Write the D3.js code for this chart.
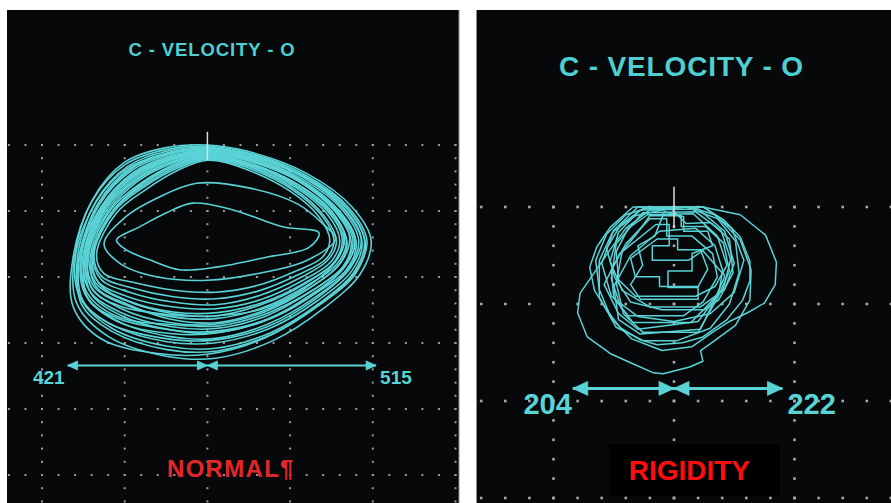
<!DOCTYPE html>
<html>
<head>
<meta charset="utf-8">
<script src="https://cdn.jsdelivr.net/npm/d3@7"></script>
<style>
  html, body { margin: 0; padding: 0; background: #ffffff; }
  svg { display: block; }
</style>
</head>
<body>
<svg id="chart" width="891" height="503"></svg>
<script>
// Phase loops, position (x) vs velocity (y, measured downward from the top grid line).
// NORMAL panel: x units are tenths of a horizontal division, y units tenths of a vertical division.
const normalLoops = [
  [[0,0],[-5,0.4],[-10,2.6],[-13.9,8.3],[-16.1,17],[-15.8,24],[-12,29],[-5,32],[1,32.3],[8,29.6],[14,24.8],[18.5,19.5],[19.8,14.5],[17.5,9.4],[12,4.3],[5,1]],
  [[0,0.35],[-4.8,0.9],[-9.6,3.2],[-13.5,8.6],[-15.7,16.9],[-15.3,23.3],[-11.5,27.8],[-4.8,30.5],[1,30.8],[7.7,28.4],[13.5,24],[17.8,19.1],[19,14.5],[16.9,9.6],[11.7,4.7],[4.9,1.4]],
  [[0,0.7],[-4.5,1.4],[-9.2,3.9],[-13,8.9],[-15.3,16.8],[-14.8,22.6],[-11.1,26.5],[-4.7,29],[1,29.3],[7.4,27.1],[13,23.1],[17.1,18.7],[18.3,14.5],[16.3,9.8],[11.4,5.1],[4.8,1.8]],
  [[0,1],[-4.3,1.9],[-8.9,4.5],[-12.6,9.2],[-14.9,16.8],[-14.3,22],[-10.6,25.3],[-4.5,27.5],[1,27.8],[7.1,25.9],[12.4,22.3],[16.4,18.4],[17.6,14.5],[15.7,10.1],[11.1,5.5],[4.8,2.2]],
  [[0,1.4],[-4.1,2.4],[-8.5,5.1],[-12.2,9.5],[-14.5,16.7],[-13.8,21.3],[-10.2,24.1],[-4.4,26],[1,26.3],[6.8,24.6],[11.9,21.4],[15.7,18],[16.8,14.4],[15.1,10.3],[10.8,5.9],[4.7,2.6]],
  [[0,1.7],[-3.9,2.9],[-8.1,5.8],[-11.7,9.8],[-14.1,16.6],[-13.3,20.6],[-9.8,22.9],[-4.3,24.5],[1,24.8],[6.5,23.4],[11.4,20.6],[15,17.6],[16,14.4],[14.5,10.5],[10.5,6.3],[4.6,3]],
  [[0,2.1],[-3.6,3.5],[-7.7,6.4],[-11.3,10.1],[-13.7,16.5],[-12.8,19.9],[-9.3,21.6],[-4.1,23],[1,23.3],[6.2,22.1],[10.9,19.7],[14.4,17.2],[15.3,14.4],[13.9,10.8],[10.2,6.7],[4.5,3.3]],
  [[0.5,0.8],[-4.4,1.6],[-9,4.2],[-12.8,9.3],[-15.1,17.3],[-14.5,23.1],[-10.8,26.8],[-4.2,28.6],[1.5,28.4],[7.6,26.3],[12.9,22.6],[16.8,18.9],[18,14.9],[16.1,10.4],[11.5,5.6],[5.2,2.1]],
  [[-0.3,1.2],[-4.2,2.1],[-8.7,4.7],[-12.4,9.1],[-14.7,16.2],[-14,21.6],[-10.4,24.8],[-4.6,26.9],[0.6,27.2],[6.9,25.3],[12.2,21.8],[16.1,17.9],[17.2,14],[15.4,9.8],[10.9,5.4],[4.6,2.3]],
  [[0.2,1.9],[-3.8,3.1],[-7.9,6],[-11.5,10.1],[-13.9,16.9],[-13.1,21],[-9.6,23.6],[-4.1,25.3],[1.2,25.4],[6.6,23.9],[11.6,21],[15.3,17.8],[16.3,14.2],[14.7,10.2],[10.6,6.1],[4.9,2.8]],
  [[0,0.5],[-4.6,1.1],[-9.4,3.6],[-13.2,8.8],[-15.5,17.1],[-15,23.7],[-11.3,27.4],[-4.9,29.8],[0.8,30],[7.5,27.8],[13.3,23.6],[17.5,19],[18.7,14.8],[16.6,9.9],[11.6,4.9],[4.9,1.6]],
  [[0,1.6],[-4,2.7],[-8.3,5.4],[-11.9,9.9],[-14.3,16.4],[-13.5,20.9],[-10,23.5],[-4.4,25.5],[1,25.9],[6.7,24.1],[11.7,21.1],[15.4,17.7],[16.5,14.3],[14.8,10.4],[10.6,6.1],[4.7,2.8]],
  [[0,0.2],[-5,0.7],[-10,3],[-14,8.6],[-16.3,17.5],[-16.2,24.6],[-12.8,29.4],[-6,31.6],[0,31.7],[7,29.2],[13.2,24.5],[17.9,19.2],[19.3,14.6],[17.1,9.5],[11.8,4.5],[5,1.2]],
  [[0,1.3],[-4.2,2.2],[-8.6,4.9],[-12.3,9.4],[-14.6,16.6],[-14.1,22.4],[-10.5,25.8],[-4.5,28],[1,28.2],[7.2,26.4],[12.6,22.6],[16.6,18.5],[17.8,14.6],[15.9,10.1],[11.2,5.4],[4.8,2.1]],
  [[0,2],[-3.7,3.3],[-7.8,6.2],[-11.4,9.9],[-13.8,16.3],[-12.9,20.3],[-9.4,22.3],[-4.2,23.8],[1,24.2],[6.3,22.8],[11.1,20.2],[14.6,17.4],[15.6,14.5],[14.1,10.7],[10.3,6.5],[4.6,3.1]],
  [[0,2.3],[-3.5,3.8],[-7.5,6.8],[-11,10.3],[-13.4,16.5],[-12.5,19.5],[-9,20.8],[-4,22],[1,22.3],[6,21.3],[10.5,19.2],[13.9,17],[14.8,14.4],[13.5,10.9],[10,7],[4.5,3.6]],
  [[0.3,0.5],[-4.7,1.2],[-9.5,3.4],[-13.4,8.5],[-15.9,16.5],[-15.5,22.8],[-11.9,27],[-5.2,29.3],[0.5,29.6],[7.3,27.5],[13.1,23.3],[17.3,18.6],[18.6,14.2],[16.4,9.4],[11.3,4.6],[4.6,1.5]],
  [[0,1.1],[-4.3,2],[-8.8,4.6],[-12.5,9.6],[-14.8,17.2],[-14.4,23.4],[-11,26.2],[-5,27.9],[0.2,28.5],[6.6,26.8],[12.1,23.3],[16.2,18.9],[17.4,14.8],[15.5,10.2],[10.8,5.3],[4.5,2]],
  [[0,1.5],[-4,2.5],[-8.4,5.2],[-12,9.6],[-14.4,16.2],[-13.9,21.9],[-10.6,24.4],[-4.8,25.7],[0.6,25.9],[6.5,24.9],[11.8,21.7],[15.6,17.5],[16.6,14],[15,10],[10.7,5.8],[4.6,2.6]],
  [[0.4,0.9],[-4.4,1.8],[-9,4.4],[-12.7,9.1],[-15.2,16.4],[-14.6,22.3],[-10.9,26],[-4.3,27.2],[1.4,27.4],[7.4,25.4],[12.7,22],[16.7,18.2],[17.9,14.3],[15.9,9.9],[11.2,5.2],[5,2]],
  [[0,1.8],[-3.9,3],[-8,5.9],[-11.7,10.4],[-14.1,17.3],[-13.4,21.6],[-9.9,24],[-4.4,26.4],[1.3,26.9],[7,25],[12,21.9],[15.8,18.3],[16.9,14.9],[15.2,10.6],[10.9,6],[4.7,2.9]],
  [[-0.2,0.6],[-4.7,1.3],[-9.3,3.7],[-13.1,9],[-15.6,17.6],[-15.2,24.2],[-11.6,28.2],[-4.9,31],[1.2,31.2],[7.9,28.6],[13.6,24.2],[17.9,19.5],[19.1,14.9],[17,9.8],[11.7,4.8],[4.8,1.3]],
  [[-1.8,8.8],[3,9.8],[9.1,12.4],[13.5,13.3],[12.3,15.5],[7.1,17],[1.1,18.5],[-3.4,18.9],[-7,17.4],[-9.8,15.9],[-11,14.4],[-8.2,12.4],[-5,10.3]],
  [[-1.3,5.8],[5,6.5],[11,9],[14,12],[15.5,14.2],[12,17.5],[6,19.5],[0,20.5],[-6,20],[-10.5,18],[-12.5,15],[-10,11],[-6,8]]
];

// RIGIDITY panel loops, same convention on its own grid.
const rigidityLoops = [
  [[-3.4,0],[-5.3,2.1],[-6.4,4.1],[-7,6.2],[-6.6,8.6],[-5.6,10.6],[-4.5,12.4],[-2.8,13.7],[-1.4,14.2],[0.7,14],[2.4,13.4],[4.4,11.6],[5.7,9.6],[6.3,7.6],[6.3,5.6],[5.5,3.1],[4.1,1.3],[2.4,0]],
  [[-2,0],[2.4,0],[5.5,0.8],[7.6,2.9],[8.5,5.7],[8.4,8],[7.5,9.9],[6.1,10.9],[4.6,11.8],[3.1,13],[1.5,14.4],[-1,14.8],[-3.5,13.6],[-5.2,11.5],[-6.2,8.5],[-6.5,5.5],[-5.6,2.8],[-4,0.8]],
  [[-5.3,4.4],[-7.8,8.9],[-8,10.9],[-7.2,13.4],[-5.3,15.1],[-3.7,16],[-1.7,17.1],[-0.9,17.2],[1.3,16.5],[2.4,15.9],[2.2,14.8],[3,14.1],[5.1,12.2],[6.3,9.6],[6.4,6.5],[5.5,3.4],[3.4,0.8],[1.3,0],[-2,0.3],[-4,2.2]],
  [[-3,0],[2.5,0],[4.8,2.2],[5.8,5.5],[5,8.8],[3,11],[0,11.8],[-3,11.3],[-5.2,9.2],[-6,5.8],[-5,2.4]],
  [[-2.8,0.3],[2,0.2],[4.2,2.5],[5,5.8],[4.2,8.5],[2.2,10.3],[-2,10.3],[-4.3,8.6],[-5.3,5.6],[-4.6,2.6]],
  [[-2.2,0.8],[1.6,0.7],[3.6,3],[4.4,6],[3.4,8.2],[1.8,9.2],[-3.2,9.2],[-4.6,7.5],[-4.8,4.6],[-3.8,2.2]],
  [[-2,1.2],[-0.6,1.2],[-0.6,3],[1.5,3],[3.2,4.8],[3.6,7.2],[2.4,9.8],[0.8,11.2],[-3.8,11.2],[-5,9.4],[-5.2,6.5],[-4,3.8]],
  [[-1.5,1.8],[-0.4,1.8],[-0.4,4],[-1.8,4],[-1.8,5.5],[1.2,5.5],[2.4,4.5],[4,6.8],[3.7,9],[2,11.8],[-3,12.6],[-4.6,11],[-5.8,8],[-4.5,4.8]],
  [[-1.2,2.5],[1.8,2.2],[3.4,4],[4.2,7.2],[3.2,10],[2.2,12.6],[-2.8,13.1],[-4.6,11.6],[-5,8.2],[-3.6,5]],
  [[-0.8,0.5],[0.8,1],[0.8,2.5],[2.8,2.5],[3.2,4],[1.5,4.8],[1.5,6.6],[-0.5,6.6],[-0.5,8.3],[2,8.3],[2,9.5],[-2.8,9.5],[-3.6,8],[-2.6,6],[-3,4],[-1.6,3]],
  [[-1,0.3],[1,0],[3.6,1.2],[5.1,3.5],[5.4,6.8],[4.6,10],[3,12.5],[0.2,13.8],[-2.5,13.8],[-4.8,12.4],[-6.2,9.3],[-6.2,5.5],[-5.1,2.6],[-3.2,0.9]],
  [[-2.5,0.1],[-0.2,0.2],[1,1.7],[3,1.6],[4.6,3.3],[4.9,6.8],[3.7,9.6],[2.5,10.6],[-1,10.6],[-3.6,9.8],[-4.9,7.3],[-5.6,4.3],[-4.4,1.8]],
  [[-2.6,0.6],[1.8,0.5],[3.9,2.4],[4.7,5.4],[4.1,8.4],[2.6,10.4],[1.4,11.9],[-3.4,11.9],[-4.4,10.4],[-5.2,7.4],[-4.8,3.8]],
  [[-2,0.9],[0.6,0.9],[0.6,2],[2.6,2],[4.1,3.7],[4.6,6.6],[3.6,9.4],[2,12.9],[-2.6,12.9],[-4.2,11],[-4.8,7.8],[-4.3,4.6],[-3,2.6]],
  [[-1.4,3.3],[0.3,3.3],[0.3,4.4],[2.2,4.4],[2.8,6.4],[2,8.2],[-1.2,8.2],[-1.2,7.2],[-3.2,7.2],[-3.6,5.3]]
];

// Stroke span measured under each loop set: [left end, centre, right end], and its level.
const normalSpan = [-16.9, 0, 20.4];
const normalSpanLevel = 33.4;
const rigiditySpan = [-8.4, 0, 9.0];
const rigiditySpanLevel = 18.7;

const normalSpanLabels = ["421", "515"];
const rigiditySpanLabels = ["204", "222"];
const panelTitles = ["C - VELOCITY - O", "C - VELOCITY - O"];
const panelNames = ["NORMAL¶", "RIGIDITY"];

const svg = d3.select("#chart");
const CYAN = "#5ad3d6";

function drawPanel(cfg) {
  const g = svg.append("g");

  // screen background
  g.append("rect")
    .attr("x", cfg.box[0]).attr("y", cfg.box[1])
    .attr("width", cfg.box[2]).attr("height", cfg.box[3])
    .attr("fill", "#060809");
  g.append("line")
    .attr("x1", cfg.edgeX).attr("x2", cfg.edgeX)
    .attr("y1", cfg.box[1]).attr("y2", cfg.box[1] + cfg.box[3])
    .attr("stroke", "#8a8a8a").attr("stroke-width", 1);

  const x = d3.scaleLinear().domain(cfg.xDomain).range(cfg.xRange);
  const y = d3.scaleLinear().domain(cfg.yDomain).range(cfg.yRange);

  // dotted graticule
  const dots = g.append("g").attr("fill", cfg.dotColor);
  const gridDots = [];
  cfg.rows.forEach(r => cfg.rowDotsX.forEach(v => gridDots.push([v, r])));
  cfg.cols.forEach(c => cfg.colDotsY.forEach(v => gridDots.push([c, v])));
  dots.selectAll("rect").data(gridDots).join("rect")
    .attr("x", d => x(d[0]) - cfg.dotSize / 2)
    .attr("y", d => y(d[1]) - cfg.dotSize / 2)
    .attr("width", cfg.dotSize).attr("height", cfg.dotSize);

  // phase loops
  const line = d3.line().x(d => x(d[0])).y(d => y(d[1])).curve(cfg.curve);
  g.append("g")
    .attr("fill", "none").attr("stroke", CYAN)
    .attr("stroke-width", cfg.loopWidth).attr("stroke-linejoin", "round")
    .selectAll("path").data(cfg.loops).join("path")
    .attr("d", line);

  // start marker
  g.append("line")
    .attr("x1", x(0)).attr("x2", x(0))
    .attr("y1", y(cfg.markerY[0])).attr("y2", y(cfg.markerY[1]))
    .attr("stroke", "#dcdcdc").attr("stroke-width", 1.5);

  // span arrows: two double-headed arrows meeting at the centre
  const ay = y(cfg.spanLevel);
  const [sl, sc, sr] = cfg.span.map(v => x(v));
  const arr = g.append("g").attr("fill", CYAN).attr("stroke", CYAN);
  arr.append("line").attr("x1", sl).attr("x2", sr).attr("y1", ay).attr("y2", ay)
    .attr("stroke-width", cfg.arrowWidth);
  const L = cfg.headLen, H = cfg.headHalf;
  const head = (tip, dir) => `M${tip},${ay}L${tip + dir * L},${ay - H}L${tip + dir * L},${ay + H}Z`;
  [head(sl, 1), head(sc, -1), head(sc, 1), head(sr, -1)].forEach(p =>
    arr.append("path").attr("d", p).attr("stroke-width", 0.8));

  g.append("text")
    .attr("x", sl - cfg.labelGapL).attr("y", ay + cfg.labelDrop)
    .attr("text-anchor", "end")
    .attr("font-family", "Liberation Sans, Arial, sans-serif").attr("font-weight", "bold")
    .attr("font-size", cfg.labelSize).attr("fill", CYAN)
    .text(cfg.spanLabels[0]);
  g.append("text")
    .attr("x", sr + cfg.labelGapR).attr("y", ay + cfg.labelDrop)
    .attr("text-anchor", "start")
    .attr("font-family", "Liberation Sans, Arial, sans-serif").attr("font-weight", "bold")
    .attr("font-size", cfg.labelSize).attr("fill", CYAN)
    .text(cfg.spanLabels[1]);

  // title
  g.append("text")
    .attr("x", cfg.title.x).attr("y", cfg.title.y)
    .attr("text-anchor", "middle")
    .attr("font-family", "Liberation Sans, Arial, sans-serif").attr("font-weight", "bold")
    .attr("font-size", cfg.title.size).attr("letter-spacing", cfg.title.spacing)
    .attr("fill", "#4fcfd2")
    .text(cfg.title.text);

  // condition name
  if (cfg.name.box) {
    g.append("rect")
      .attr("x", cfg.name.box[0]).attr("y", cfg.name.box[1])
      .attr("width", cfg.name.box[2]).attr("height", cfg.name.box[3])
      .attr("fill", "#000000");
  }
  g.append("text")
    .attr("x", cfg.name.x).attr("y", cfg.name.y)
    .attr("font-family", "Liberation Sans, Arial, sans-serif").attr("font-weight", "bold")
    .attr("font-size", cfg.name.size).attr("letter-spacing", cfg.name.spacing)
    .attr("fill", cfg.name.color)
    .text(cfg.name.text);
}

drawPanel({
  box: [7, 10, 452, 493], edgeX: 459,
  xDomain: [-20, 30], xRange: [42, 455.5],
  yDomain: [0, 50], yRange: [145, 475],
  rows: d3.range(0, 51, 10), cols: d3.range(-20, 31, 10),
  rowDotsX: d3.range(-24, 31, 2), colDotsY: d3.range(0, 55, 2),
  dotColor: "#9a9a9a", dotSize: 2,
  loops: normalLoops, curve: d3.curveCatmullRomClosed.alpha(0.5), loopWidth: 1.6,
  markerY: [-2, 2.3],
  span: normalSpan, spanLevel: normalSpanLevel,
  arrowWidth: 2, headLen: 10, headHalf: 4.5,
  spanLabels: normalSpanLabels, labelSize: 19, labelGapL: 3, labelGapR: 4, labelDrop: 18.5,
  title: { text: panelTitles[0], x: 212, y: 56, size: 18.5, spacing: 0.9 },
  name: { text: panelNames[0], x: 167, y: 477, size: 24, spacing: 1.3, color: "#e3262c" }
});

drawPanel({
  box: [476, 10, 415, 493], edgeX: 476.5,
  xDomain: [-10, 10], xRange: [553.5, 794.5],
  yDomain: [0, 30], yRange: [207, 498],
  rows: d3.range(0, 31, 10), cols: d3.range(-10, 11, 10),
  rowDotsX: d3.range(-16, 19, 2), colDotsY: d3.range(0, 31, 2),
  dotColor: "#a8a8a8", dotSize: 2.6,
  loops: rigidityLoops, curve: d3.curveLinearClosed, loopWidth: 1.5,
  markerY: [-2.1, 2.2],
  span: rigiditySpan, spanLevel: rigiditySpanLevel,
  arrowWidth: 3, headLen: 15, headHalf: 7,
  spanLabels: rigiditySpanLabels, labelSize: 29, labelGapL: 1, labelGapR: 5, labelDrop: 25.7,
  title: { text: panelTitles[1], x: 681.5, y: 75.5, size: 28, spacing: 0.85 },
  name: { text: panelNames[1], x: 628.7, y: 480, size: 28, spacing: 0, color: "#ff0d0d",
          box: [609, 444, 171, 52] }
});
</script>
</body>
</html>
